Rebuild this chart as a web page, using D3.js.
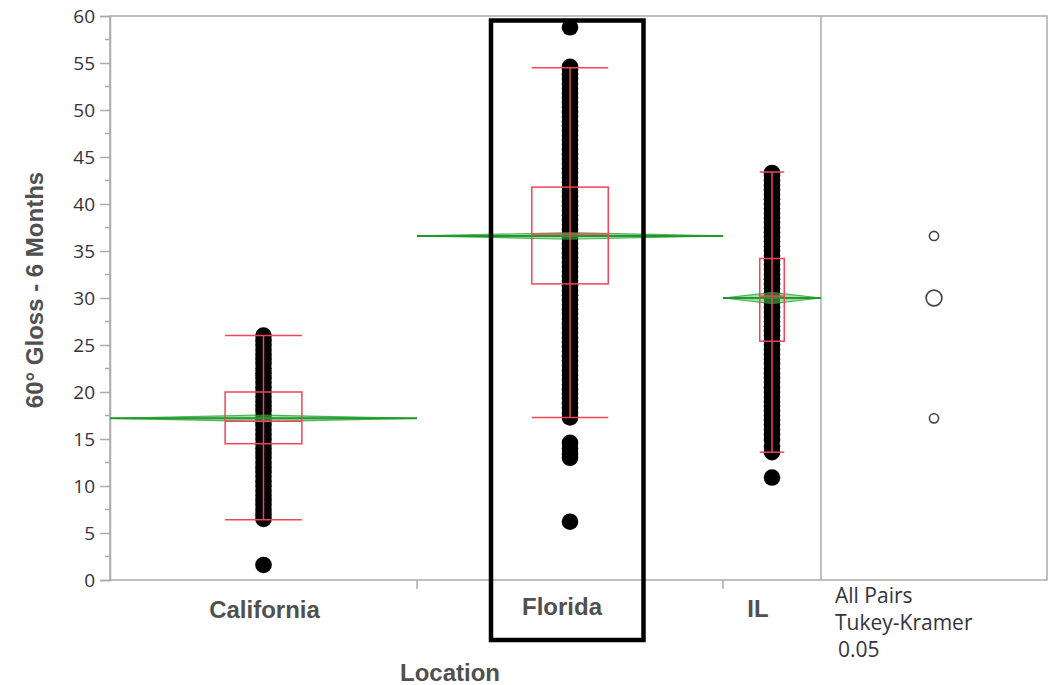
<!DOCTYPE html>
<html>
<head>
<meta charset="utf-8">
<script src="https://cdn.jsdelivr.net/npm/d3@7"></script>
<style>
  body { margin: 0; background: #fff; }
  svg { display: block; font-family: "Liberation Sans", Arial, sans-serif; }
  .y-axis .tick text { font-family: "Open Sans", sans-serif; font-size: 19px; fill: #33333d; }
  .note { font-family: "Open Sans", sans-serif; font-size: 21px; fill: #33333d; }
  .bold-label { font-weight: bold; font-size: 24px; fill: #505050; }
</style>
</head>
<body>
<svg id="chart" width="1056" height="685"></svg>
<script>
// categories and group sizes (column widths are proportional to n, like JMP)
const locations = ["California", "Florida", "IL"];
const groupCounts = [307, 306, 98];

// means diamonds
const groupMeans = [17.2, 36.6, 30.0];
const meanCI = [0.35, 0.35, 0.6];

// box plots
const boxQ1 = [14.5, 31.5, 25.4];
const boxMedian = [16.9, 36.8, 30.2];
const boxQ3 = [20.0, 41.8, 34.2];
const whiskerLo = [6.4, 17.3, 13.6];
const whiskerHi = [26.0, 54.5, 43.4];

// observations (read from the dense columns)
const pointsCalifornia = [1.6,
  6.5, 7.0, 7.5, 8.0, 8.5, 9.0, 9.5, 10.0, 10.5, 11.0, 11.5, 12.0, 12.5, 13.0,
  13.5, 14.0, 14.5, 15.0, 15.5, 16.0, 16.5, 17.0, 17.5, 18.0, 18.5, 19.0, 19.5,
  20.0, 20.5, 21.0, 21.5, 22.0, 22.5, 23.0, 23.5, 24.0, 24.5, 25.0, 25.5, 26.0];
const pointsFlorida = [6.2, 13.0, 13.4, 14.0, 14.6,
  17.3, 17.8, 18.3, 18.8, 19.3, 19.8, 20.3, 20.8, 21.3, 21.8, 22.3, 22.8, 23.3,
  23.8, 24.3, 24.8, 25.3, 25.8, 26.3, 26.8, 27.3, 27.8, 28.3, 28.8, 29.3, 29.8,
  30.3, 30.8, 31.3, 31.8, 32.3, 32.8, 33.3, 33.8, 34.3, 34.8, 35.3, 35.8, 36.3,
  36.8, 37.3, 37.8, 38.3, 38.8, 39.3, 39.8, 40.3, 40.8, 41.3, 41.8, 42.3, 42.8,
  43.3, 43.8, 44.3, 44.8, 45.3, 45.8, 46.3, 46.8, 47.3, 47.8, 48.3, 48.8, 49.3,
  49.8, 50.3, 50.8, 51.3, 51.8, 52.3, 52.8, 53.3, 53.8, 54.3, 54.6, 58.8];
const pointsIL = [10.9,
  13.6, 14.2, 14.9, 15.5, 16.0, 16.5, 17.0, 17.5, 18.0, 18.5, 19.0, 19.5, 20.0,
  20.5, 21.0, 21.5, 22.0, 22.5, 23.0, 23.5, 24.0, 24.5, 25.0, 25.5, 26.0, 26.5,
  27.0, 27.5, 28.0, 28.5, 29.0, 29.5, 30.0, 30.5, 31.0, 31.5, 32.0, 32.5, 33.0,
  33.5, 34.0, 34.5, 35.0, 35.5, 36.0, 36.5, 37.0, 37.5, 38.0, 38.5, 39.0, 39.5,
  40.0, 40.5, 41.0, 41.5, 42.0, 42.5, 43.0, 43.3];
const groupPoints = [pointsCalifornia, pointsFlorida, pointsIL];

const yTicks = d3.range(0, 61, 5);
const noteLines = ["All Pairs", "Tukey-Kramer", "0.05"];

// ---- layout
const plot = { left: 110, top: 16, split: 821, right: 1047, bottom: 580 };
const svg = d3.select("#chart");

const yScale = d3.scaleLinear().domain([0, 60]).range([plot.bottom, plot.top]);
const xScale = d3.scaleLinear()
  .domain([0, d3.sum(groupCounts)])
  .range([plot.left, plot.split]);

const starts = d3.cumsum([0, ...groupCounts]);
const groups = locations.map((name, i) => ({
  name,
  x0: xScale(starts[i]),
  x1: xScale(starts[i + 1]),
  xc: xScale(starts[i] + groupCounts[i] / 2),
  mean: groupMeans[i], ci: meanCI[i],
  q1: boxQ1[i], med: boxMedian[i], q3: boxQ3[i],
  lo: whiskerLo[i], hi: whiskerHi[i],
  points: groupPoints[i]
}));

const frameColor = "#ababab";
const red = "#f0455a";
const green = "#1e9a2a";

// frame
svg.append("rect")
  .attr("x", plot.left).attr("y", plot.top)
  .attr("width", plot.right - plot.left).attr("height", plot.bottom - plot.top)
  .attr("fill", "none").attr("stroke", frameColor).attr("stroke-width", 1.5);
svg.append("line")
  .attr("x1", plot.split).attr("x2", plot.split)
  .attr("y1", plot.top).attr("y2", plot.bottom)
  .attr("stroke", frameColor).attr("stroke-width", 1.5);

// y axis with minor ticks
const yAxis = d3.axisLeft(yScale).tickValues(yTicks).tickSize(10).tickPadding(5);
const yAxisGroup = svg.append("g")
  .attr("class", "y-axis")
  .attr("transform", `translate(${plot.left},0)`)
  .call(yAxis);
yAxisGroup.select(".domain").attr("stroke", frameColor).attr("stroke-width", 1.5);
yAxisGroup.selectAll(".tick line").attr("stroke", frameColor).attr("stroke-width", 1.5);
yAxisGroup.selectAll(".minor")
  .data(yTicks.slice(0, -1).map(d => d + 2.5))
  .join("line")
  .attr("class", "minor")
  .attr("x1", -5).attr("x2", 0)
  .attr("y1", d => yScale(d)).attr("y2", d => yScale(d))
  .attr("stroke", frameColor).attr("stroke-width", 1.5);

// x boundary ticks
svg.selectAll(".x-tick")
  .data(groups.slice(1))
  .join("line")
  .attr("class", "x-tick")
  .attr("x1", d => d.x0).attr("x2", d => d.x0)
  .attr("y1", plot.bottom).attr("y2", plot.bottom + 9)
  .attr("stroke", frameColor).attr("stroke-width", 1.5);

const chart = svg.append("g");

// points
groups.forEach(g => {
  chart.append("g").selectAll("circle")
    .data(g.points)
    .join("circle")
    .attr("cx", g.xc)
    .attr("cy", d => yScale(d))
    .attr("r", 8.3)
    .attr("fill", "#000");
});

// means diamonds
const diamonds = chart.selectAll(".diamond")
  .data(groups)
  .join("g")
  .attr("class", "diamond");
diamonds.append("polygon")
  .attr("points", d => [
    [d.x0, yScale(d.mean)],
    [d.xc, yScale(d.mean + d.ci)],
    [d.x1, yScale(d.mean)],
    [d.xc, yScale(d.mean - d.ci)]
  ].join(" "))
  .attr("fill", "#5cc05c").attr("fill-opacity", 0.55)
  .attr("stroke", green).attr("stroke-opacity", 0.7).attr("stroke-width", 1.2);
diamonds.append("line")
  .attr("x1", d => d.x0).attr("x2", d => d.x1)
  .attr("y1", d => yScale(d.mean)).attr("y2", d => yScale(d.mean))
  .attr("stroke", green).attr("stroke-width", 2);

// box plots
const boxW = d => (d.x1 - d.x0) * 0.25;
const boxes = chart.selectAll(".box")
  .data(groups)
  .join("g")
  .attr("class", "box")
  .attr("stroke", red).attr("stroke-width", 1.5).attr("fill", "none");
boxes.append("line")
  .attr("x1", d => d.xc).attr("x2", d => d.xc)
  .attr("y1", d => yScale(d.hi)).attr("y2", d => yScale(d.lo));
boxes.append("rect")
  .attr("x", d => d.xc - boxW(d) / 2)
  .attr("width", boxW)
  .attr("y", d => yScale(d.q3))
  .attr("height", d => yScale(d.q1) - yScale(d.q3));
boxes.selectAll(".hl")
  .data(d => [d.lo, d.med, d.hi].map(v => ({ v, g: d })))
  .join("line")
  .attr("x1", d => d.g.xc - boxW(d.g) / 2)
  .attr("x2", d => d.g.xc + boxW(d.g) / 2)
  .attr("y1", d => yScale(d.v)).attr("y2", d => yScale(d.v));

// comparison circles (radius from the CI on the y scale)
const circleX = (plot.split + plot.right) / 2;
svg.selectAll(".comp")
  .data(groups)
  .join("circle")
  .attr("class", "comp")
  .attr("cx", circleX)
  .attr("cy", d => yScale(d.mean))
  .attr("r", d => yScale(0) - yScale(d.ci * 1.4))
  .attr("fill", "none").attr("stroke", "#444").attr("stroke-width", 1.6);

// category labels
const labelNudge = { California: 1, Florida: -8, IL: -14 };
const labelRise = { California: 0, Florida: 3, IL: 1 };
svg.selectAll(".cat-label")
  .data(groups)
  .join("text")
  .attr("class", "cat-label bold-label")
  .attr("x", d => d.xc + labelNudge[d.name])
  .attr("y", d => 618 - labelRise[d.name])
  .attr("text-anchor", "middle")
  .text(d => d.name);

svg.append("text")
  .attr("class", "bold-label")
  .attr("x", 450).attr("y", 681)
  .attr("text-anchor", "middle")
  .text("Location");

svg.append("text")
  .attr("class", "bold-label")
  .attr("transform", "translate(43,290) rotate(-90)")
  .attr("text-anchor", "middle")
  .text("60° Gloss - 6 Months");

// method note
svg.selectAll(".note")
  .data(noteLines)
  .join("text")
  .attr("class", "note")
  .attr("x", (d, i) => i === 2 ? 838 : 835)
  .attr("y", (d, i) => 603 + i * 27)
  .text(d => d);

// highlight around Florida
const fl = groups[1];
svg.append("rect")
  .attr("x", fl.xc - 79).attr("y", yScale(60) + 4.5)
  .attr("width", 152.5).attr("height", 640 - (yScale(60) + 4.5))
  .attr("fill", "none").attr("stroke", "#000").attr("stroke-width", 4.5);
</script>
</body>
</html>
